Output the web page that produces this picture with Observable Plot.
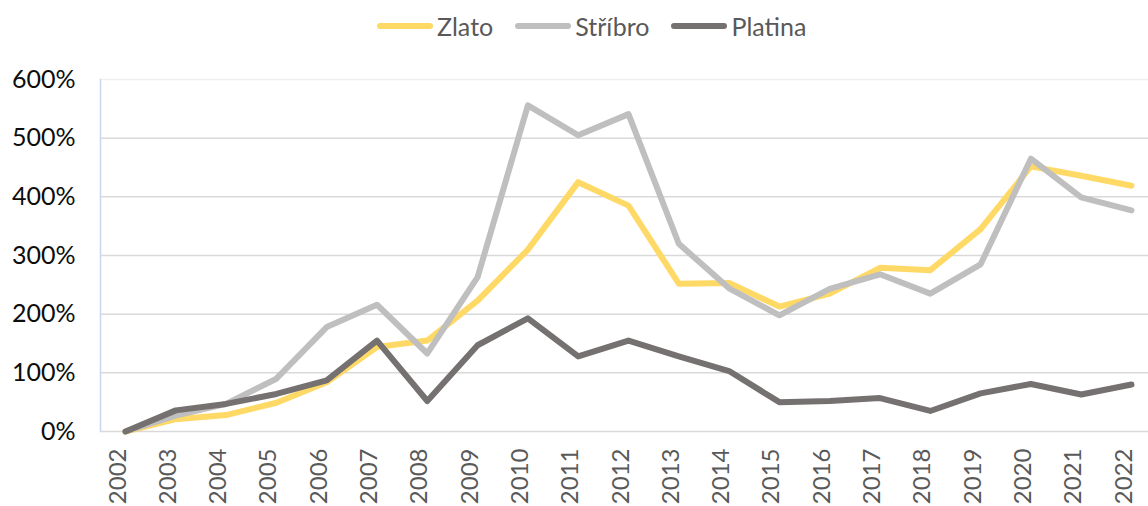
<!DOCTYPE html>
<html>
<head>
<meta charset="utf-8">
<script src="https://cdn.jsdelivr.net/npm/d3@7"></script>
<script src="https://cdn.jsdelivr.net/npm/@observablehq/plot@0.6"></script>
<style>
  html, body { margin: 0; padding: 0; background: #fff; }
  body { width: 1148px; height: 506px; overflow: hidden; font-family: Lato, "Open Sans", sans-serif; }
  #legend { height: 52px; display: flex; align-items: center; padding-left: 377px; box-sizing: border-box; }
  .item { display: flex; align-items: center; margin-right: 22px; color: #595959; font-size: 25px; }
  .sw { width: 56px; height: 6px; border-radius: 3px; margin-right: 4px; }
</style>
</head>
<body>
<div id="legend"></div>
<div id="chart"></div>
<script>
const years = [2002,2003,2004,2005,2006,2007,2008,2009,2010,2011,2012,2013,2014,2015,2016,2017,2018,2019,2020,2021,2022];
const zlato   = [0,21,28,49,84,144,155,223,310,425,385,252,253,213,235,279,275,345,452,436,419];
const stribro = [0,27,47,90,178,216,133,263,556,505,541,320,244,198,243,268,235,285,465,399,377];
const platina = [0,36,47,64,87,155,52,147,193,128,155,128,103,50,52,57,35,65,81,63,80];
const seriesNames = ["Zlato","Stříbro","Platina"];
const seriesColors = ["#FFD966","#BFBFBF","#767171"];
const yTicks = [0,100,200,300,400,500,600];

const legend = document.getElementById("legend");
seriesNames.forEach((n,i) => {
  const it = document.createElement("div"); it.className = "item";
  const sw = document.createElement("div"); sw.className = "sw"; sw.style.background = seriesColors[i];
  const tx = document.createElement("span"); tx.textContent = n;
  it.appendChild(sw); it.appendChild(tx); legend.appendChild(it);
});

const allValues = [zlato, stribro, platina];
const rows = [];
allValues.forEach((vals, s) => vals.forEach((v, i) => rows.push({year: years[i], value: v, series: seriesNames[s]})));

const plot = Plot.plot({
  width: 1148,
  height: 454,
  marginLeft: 100,
  marginRight: 0,
  marginTop: 27,
  marginBottom: 75,
  style: {fontFamily: "Lato, 'Open Sans', sans-serif", background: "#fff", overflow: "hidden"},
  x: {domain: [2002, 2022], range: [125, 1131], axis: null},
  y: {domain: [0, 600], axis: null},
  color: {domain: seriesNames, range: seriesColors},
  marks: [
    Plot.ruleY(yTicks.filter(t => t < 600), {stroke: "#d9d9d9", strokeWidth: 1.5}),
    Plot.ruleY(yTicks.filter(t => t === 600), {stroke: "#f0f0f0", strokeWidth: 1.5}),
    Plot.frame({anchor: "left", stroke: "#c9d6ee", strokeWidth: 1.5}),
    Plot.text(yTicks, {frameAnchor: "left", y: d => d, text: d => d + "%", dx: -25, textAnchor: "end", fontSize: 25, fill: "#0d0d0d"}),
    Plot.text(years, {x: d => d, frameAnchor: "bottom", dy: 17, rotate: -90, textAnchor: "end", text: d => String(d), fontSize: 24, fill: "#595959"}),
    Plot.line(rows, {x: "year", y: "value", z: "series", stroke: "series", strokeWidth: 6, strokeLinecap: "round", strokeLinejoin: "round"})
  ]
});
document.getElementById("chart").appendChild(plot);
</script>
</body>
</html>
